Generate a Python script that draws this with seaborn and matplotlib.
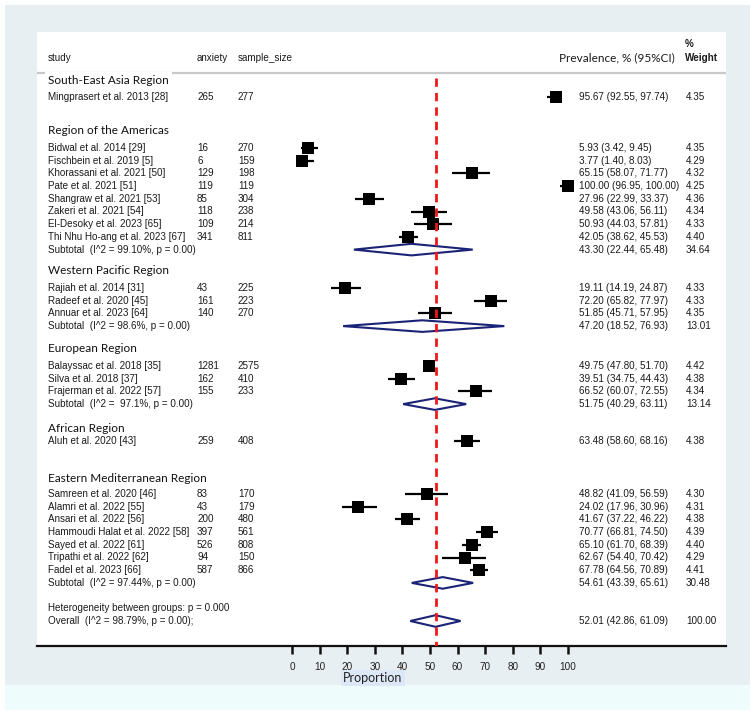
import numpy as np
import pandas as pd
import matplotlib
matplotlib.use("Agg")
import matplotlib.pyplot as plt
import seaborn as sns
from matplotlib.patches import Rectangle, Polygon
from matplotlib.transforms import blended_transform_factory

# ---------------- data ----------------
regions = ["South-East Asia Region", "Region of the Americas", "Western Pacific Region",
           "European Region", "African Region", "Eastern Mediterranean Region"]
studies = ["Mingprasert et al. 2013 [28]",
           "Bidwal et al. 2014 [29]", "Fischbein et al. 2019 [5]", "Khorassani et al. 2021 [50]",
           "Pate et al. 2021 [51]", "Shangraw et al. 2021 [53]", "Zakeri et al. 2021 [54]",
           "El-Desoky et al. 2023 [65]", "Thi Nhu Ho-ang et al. 2023 [67]",
           "Rajiah et al. 2014 [31]", "Radeef et al. 2020 [45]", "Annuar et al. 2023 [64]",
           "Balayssac et al. 2018 [35]", "Silva et al. 2018 [37]", "Frajerman et al. 2022 [57]",
           "Aluh et al. 2020 [43]",
           "Samreen et al. 2020 [46]", "Alamri et al. 2022 [55]", "Ansari et al. 2022 [56]",
           "Hammoudi Halat et al. 2022 [58]", "Sayed et al. 2022 [61]", "Tripathi et al. 2022 [62]",
           "Fadel et al. 2023 [66]"]
study_region = [0, 1, 1, 1, 1, 1, 1, 1, 1, 2, 2, 2, 3, 3, 3, 4, 5, 5, 5, 5, 5, 5, 5]
anxiety = [265, 16, 6, 129, 119, 85, 118, 109, 341, 43, 161, 140, 1281, 162, 155, 259,
           83, 43, 200, 397, 526, 94, 587]
sample_size = [277, 270, 159, 198, 119, 304, 238, 214, 811, 225, 223, 270, 2575, 410, 233, 408,
               170, 179, 480, 561, 808, 150, 866]
prevalence = [95.67, 5.93, 3.77, 65.15, 100.00, 27.96, 49.58, 50.93, 42.05, 19.11, 72.20, 51.85,
              49.75, 39.51, 66.52, 63.48, 48.82, 24.02, 41.67, 70.77, 65.10, 62.67, 67.78]
ci_low = [92.55, 3.42, 1.40, 58.07, 96.95, 22.99, 43.06, 44.03, 38.62, 14.19, 65.82, 45.71,
          47.80, 34.75, 60.07, 58.60, 41.09, 17.96, 37.22, 66.81, 61.70, 54.40, 64.56]
ci_high = [97.74, 9.45, 8.03, 71.77, 100.00, 33.37, 56.11, 57.81, 45.53, 24.87, 77.97, 57.95,
           51.70, 44.43, 72.55, 68.16, 56.59, 30.96, 46.22, 74.50, 68.39, 70.42, 70.89]
weight = [4.35, 4.35, 4.29, 4.32, 4.25, 4.36, 4.34, 4.33, 4.40, 4.33, 4.33, 4.35, 4.42, 4.38,
          4.34, 4.38, 4.30, 4.31, 4.38, 4.39, 4.40, 4.29, 4.41]

subtotal_region = [1, 2, 3, 5]
subtotal_i2 = ["99.10%", "98.6%", " 97.1%", "97.44%"]
subtotal_p = ["0.00", "0.00", "0.00", "0.00"]
subtotal_est = [43.30, 47.20, 51.75, 54.61]
subtotal_lo = [22.44, 18.52, 40.29, 43.39]
subtotal_hi = [65.48, 76.93, 63.11, 65.61]
subtotal_weight = [34.64, 13.01, 13.14, 30.48]

overall_est, overall_lo, overall_hi, overall_weight = 52.01, 42.86, 61.09, 100.00
overall_i2, overall_p = "98.79%", "0.00"
between_groups_p = "0.000"

x_ticks = [0, 10, 20, 30, 40, 50, 60, 70, 80, 90, 100]

# ---------------- layout (pixel units of the 756x718 canvas) ----------------
W, H = 756, 718
header_y = [81, 130, 271, 349, 428, 479]
first_offset = [16, 18, 17, 17, 13, 15]
step = 12.7

study_y = []
sub_y = {}
for g in range(len(regions)):
    idx = [i for i, r in enumerate(study_region) if r == g]
    y0 = header_y[g] + first_offset[g]
    for k, i in enumerate(idx):
        study_y.append(y0 + k * step)
    if g in subtotal_region:
        sub_y[g] = y0 + len(idx) * step
het_y, overall_y = 608, 621

df = pd.DataFrame({"study": studies, "prevalence": prevalence, "lo": ci_low, "hi": ci_high,
                   "y": study_y})

# ---------------- figure ----------------
sns.set_theme(style="white")
plt.rcParams["font.family"] = ["Liberation Sans", "DejaVu Sans"]
fig = plt.figure(figsize=(W / 100, H / 100), dpi=100, facecolor="white")

fig.patches.append(Rectangle((5 / W, 1 - 685 / H), 745 / W, 680 / H, transform=fig.transFigure,
                             facecolor="#e8eff2", edgecolor="none", zorder=-10))
fig.patches.append(Rectangle((5 / W, 1 - 710 / H), 745 / W, 25 / H, transform=fig.transFigure,
                             facecolor="#eefcfc", edgecolor="none", zorder=-10))

px0, px100 = 292, 568
ppu = (px100 - px0) / 100.0
left_px, right_px, top_px, bot_px = 37, 726, 32, 646
ax = fig.add_axes([left_px / W, 1 - bot_px / H, (right_px - left_px) / W, (bot_px - top_px) / H])
ax.set_facecolor("white")
ax.set_xlim((left_px - px0) / ppu, (right_px - px0) / ppu)
ax.set_ylim(bot_px, top_px)

for s in ["top", "right", "left"]:
    ax.spines[s].set_visible(False)
ax.spines["bottom"].set_color("#111111")
ax.spines["bottom"].set_linewidth(1.6)
ax.set_yticks([])
ax.set_xticks(x_ticks)
ax.set_xticklabels([str(t) for t in x_ticks])
ax.tick_params(axis="x", direction="out", length=6, width=1.8, color="#111111",
               labelsize=7.2, pad=5.5, labelcolor="#222222", bottom=True)
ax.set_xlabel("Proportion", family=["Lato", "DejaVu Sans"], fontsize=9, color="#222222",
              bbox=dict(facecolor="#dce8f6", edgecolor="none", pad=1.5))
ax.xaxis.set_label_coords((373 - left_px) / (right_px - left_px), (bot_px - 672) / (bot_px - top_px))

tr = blended_transform_factory(fig.transFigure, ax.transData)
txt = "#1a1a1a"
fs = 7.1
col_study, col_anx, col_n, col_ci, col_w = 48 / W, 197 / W, 238 / W, 579 / W, 686 / W

# header
ax.text(col_study, 58, "study", transform=tr, fontsize=fs, va="center", color=txt)
ax.text(col_anx, 58, "anxiety", transform=tr, fontsize=fs, va="center", color=txt)
ax.text(col_n, 58, "sample_size", transform=tr, fontsize=fs, va="center", color=txt)
ax.text(675 / W, 58, "Prevalence, % (95%CI)", transform=tr, fontsize=8.5, va="center", ha="right",
        color=txt, family=["Lato", "DejaVu Sans"])
ax.text(col_w - 1 / W, 44, "%", transform=tr, fontsize=fs, va="center", color=txt, weight="bold")
ax.text(col_w - 1 / W, 58, "Weight", transform=tr, fontsize=fs, va="center", color=txt, weight="bold")
ax.axhline(73, color="#c8c8c8", lw=1.6, zorder=1)

# region headers
for g, name in enumerate(regions):
    ax.text(col_study, header_y[g], name, transform=tr, fontsize=8.5, va="center", color="#111111",
            family=["Lato", "DejaVu Sans"], zorder=3,
            bbox=dict(facecolor="white", edgecolor="none", pad=2.5))

# study rows
for i in range(len(studies)):
    y = study_y[i]
    ax.text(col_study, y, studies[i], transform=tr, fontsize=fs, va="center", color=txt)
    ax.text(col_anx, y, str(anxiety[i]), transform=tr, fontsize=fs, va="center", color=txt)
    ax.text(col_n, y, str(sample_size[i]), transform=tr, fontsize=fs, va="center", color=txt)
    ax.text(col_ci, y, f"{prevalence[i]:.2f} ({ci_low[i]:.2f}, {ci_high[i]:.2f})", transform=tr,
            fontsize=fs, va="center", color=txt)
    ax.text(col_w, y, f"{weight[i]:.2f}", transform=tr, fontsize=fs, va="center", color=txt)

ax.hlines(df["y"], df["lo"], df["hi"], color="black", lw=1.6, zorder=4)
sns.scatterplot(data=df, x="prevalence", y="y", marker="s", s=64, color="black", linewidth=0,
                ax=ax, zorder=5, legend=False)
ax.set_ylabel("")

navy = "#1b2377"
dh = 5.8


def diamond(est, lo, hi, y):
    ax.add_patch(Polygon([[lo, y], [est, y - dh], [hi, y], [est, y + dh]], closed=True,
                         facecolor="none", edgecolor=navy, lw=1.5, zorder=4))


for k, g in enumerate(subtotal_region):
    y = sub_y[g]
    ax.text(col_study, y, f"Subtotal  (I^2 = {subtotal_i2[k]}, p = {subtotal_p[k]})", transform=tr,
            fontsize=fs, va="center", color=txt)
    ax.text(col_ci, y, f"{subtotal_est[k]:.2f} ({subtotal_lo[k]:.2f}, {subtotal_hi[k]:.2f})",
            transform=tr, fontsize=fs, va="center", color=txt)
    ax.text(col_w, y, f"{subtotal_weight[k]:.2f}", transform=tr, fontsize=fs, va="center", color=txt)
    diamond(subtotal_est[k], subtotal_lo[k], subtotal_hi[k], y)

ax.text(col_study, het_y, f"Heterogeneity between groups: p = {between_groups_p}", transform=tr,
        fontsize=fs, va="center", color=txt)
ax.text(col_study, overall_y, f"Overall  (I^2 = {overall_i2}, p = {overall_p});", transform=tr,
        fontsize=fs, va="center", color=txt)
ax.text(col_ci, overall_y, f"{overall_est:.2f} ({overall_lo:.2f}, {overall_hi:.2f})", transform=tr,
        fontsize=fs, va="center", color=txt)
ax.text(col_w, overall_y, f"{overall_weight:.2f}", transform=tr, fontsize=fs, va="center", color=txt)
diamond(overall_est, overall_lo, overall_hi, overall_y)

ax.vlines(overall_est, 78, bot_px, colors="#f01818", lw=2.0, linestyles=(0, (3, 2.2)), zorder=6)

fig.savefig("out.png", dpi=100, facecolor="white")
